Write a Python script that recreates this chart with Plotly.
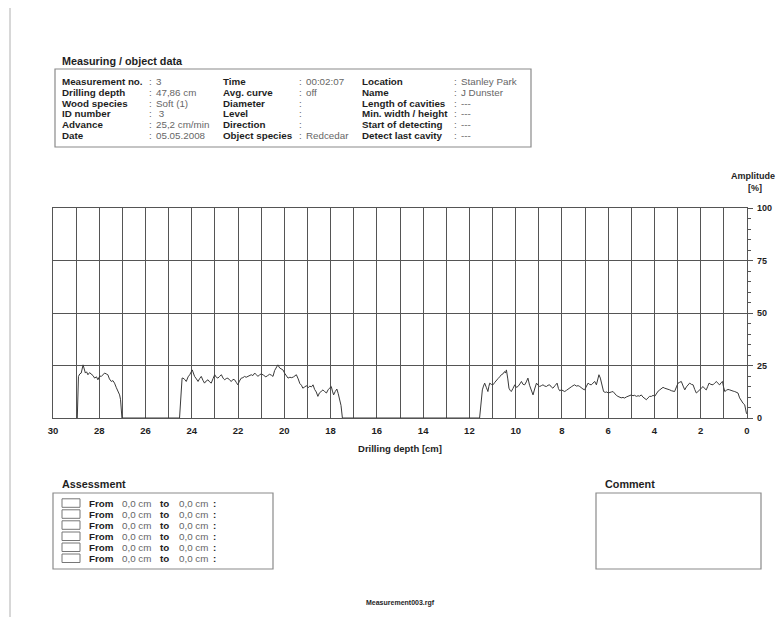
import plotly.graph_objects as go

# ---- drilling profile: depth [cm] vs amplitude [%] ----
depth_cm = [
    28.95, 28.9, 28.84, 28.78, 28.7, 28.6, 28.55, 28.49, 28.42, 28.34, 28.27, 28.2, 28.12, 28.06,
    27.98, 27.91, 27.84, 27.77, 27.7, 27.63, 27.56, 27.48, 27.41, 27.34, 27.26, 27.19, 27.12, 27.08,
    27.02, 26.0, 25.0, 24.53,
    24.42, 24.38, 24.31, 24.24, 24.16, 24.09, 23.98, 23.93, 23.88, 23.8, 23.73, 23.66, 23.59, 23.52,
    23.45, 23.38, 23.3, 23.23, 23.16, 23.08, 23.01, 22.94, 22.87, 22.8, 22.72, 22.65, 22.58, 22.51,
    22.44, 22.36, 22.29, 22.22, 22.15, 22.08, 22.01, 21.94, 21.86, 21.79, 21.72, 21.65, 21.57, 21.5,
    21.43, 21.36, 21.28, 21.21, 21.14, 21.07, 20.99, 20.9, 20.8, 20.72, 20.64, 20.56, 20.49, 20.42,
    20.35, 20.28, 20.2, 20.13, 20.06, 19.98, 19.91, 19.84, 19.76, 19.68, 19.6, 19.54, 19.48, 19.4,
    19.33, 19.26, 19.2, 19.12, 19.04, 18.97, 18.9, 18.83, 18.76, 18.69, 18.62, 18.55, 18.48, 18.41,
    18.33, 18.26, 18.18, 18.1, 18.04, 17.97, 17.92, 17.87, 17.8, 17.73, 17.67, 17.61, 17.55, 17.49,
    16.0, 14.0, 12.0, 11.56,
    11.47, 11.44, 11.39, 11.34, 11.27, 11.2, 11.16, 11.12, 11.05, 10.98, 10.9, 10.83, 10.76, 10.69,
    10.62, 10.55, 10.48, 10.44, 10.4, 10.34, 10.29, 10.24, 10.19, 10.12, 10.04, 9.97, 9.9, 9.82,
    9.75, 9.68, 9.61, 9.54, 9.47, 9.4, 9.32, 9.25, 9.18, 9.1, 9.03, 8.96, 8.89, 8.82, 8.74, 8.67,
    8.6, 8.53, 8.46, 8.39, 8.3, 8.21, 8.15, 8.1, 8.02, 7.95, 7.88, 7.8, 7.74, 7.67, 7.6, 7.52, 7.45,
    7.38, 7.3, 7.23, 7.16, 7.09, 7.02, 6.95, 6.87, 6.8, 6.73, 6.66, 6.58, 6.51, 6.46, 6.4, 6.34,
    6.29, 6.24, 6.2, 6.13, 6.06, 6.0, 5.93, 5.86, 5.79, 5.72, 5.65, 5.58, 5.51, 5.44, 5.36, 5.29,
    5.22, 5.15, 5.08, 5.0, 4.93, 4.86, 4.78, 4.71, 4.64, 4.57, 4.5, 4.42, 4.35, 4.28, 4.21, 4.13,
    4.06, 3.99, 3.92, 3.84, 3.77, 3.7, 3.63, 3.56, 3.48, 3.41, 3.34, 3.27, 3.2, 3.13, 3.05, 2.98,
    2.91, 2.84, 2.76, 2.69, 2.62, 2.55, 2.48, 2.4, 2.33, 2.26, 2.19, 2.12, 2.04, 1.97, 1.9, 1.83,
    1.76, 1.7, 1.64, 1.56, 1.47, 1.4, 1.32, 1.25, 1.18, 1.12, 1.06, 1.01, 0.96, 0.89, 0.82, 0.75,
    0.68, 0.6, 0.53, 0.46, 0.39, 0.32, 0.24, 0.17, 0.1, 0.05, 0.02,
]
amplitude_pct = [
    0.0, 19.8, 21.0, 21.4, 25.3, 21.4, 22.0, 20.6, 21.6, 21.0, 20.2, 19.0, 19.6, 18.2,
    20.0, 19.8, 20.8, 21.4, 21.0, 20.6, 18.6, 17.4, 17.8, 16.6, 14.4, 12.6, 11.0, 8.7,
    0.0, 0.0, 0.0, 0.0,
    19.0, 19.0, 18.4, 17.4, 19.6, 20.6, 22.9, 21.0, 19.8, 18.6, 17.4, 18.8, 19.8, 18.0,
    16.6, 17.6, 18.2, 17.2, 16.6, 18.8, 20.6, 19.4, 19.0, 19.8, 20.6, 19.0, 18.2, 18.8,
    19.0, 18.0, 17.4, 18.4, 18.2, 17.0, 15.8, 17.6, 19.0, 19.2, 19.8, 19.4, 19.8, 20.0,
    20.6, 20.2, 21.4, 20.6, 19.8, 20.6, 21.0, 20.4, 19.6, 20.2, 20.8, 20.4, 19.8, 22.6,
    24.2, 25.3, 23.8, 23.4, 22.9, 21.2, 19.8, 19.0, 19.4, 19.2, 19.6, 20.2, 20.6, 18.6,
    16.4, 15.6, 14.2, 14.8, 15.4, 14.4, 15.2, 14.8, 15.8, 13.6, 12.4, 10.3, 12.0, 12.6,
    13.4, 12.6, 11.9, 13.6, 14.4, 15.0, 12.8, 11.0, 12.6, 13.8, 11.6, 8.7, 6.0, 0.0,
    0.0, 0.0, 0.0, 0.0,
    10.0, 13.4, 15.2, 16.6, 14.6, 12.6, 15.0, 16.6, 16.0, 15.8, 17.0, 18.2, 18.8, 19.6,
    20.6, 21.0, 22.1, 21.4, 22.9, 18.6, 14.2, 13.2, 12.6, 14.0, 15.8, 14.6, 15.0, 16.2,
    17.4, 16.0, 15.8, 17.2, 19.0, 15.6, 12.6, 11.0, 13.8, 16.6, 15.6, 15.0, 15.4, 15.8, 15.2, 15.0,
    15.6, 15.8, 14.8, 14.2, 15.4, 16.6, 14.0, 13.0, 13.4, 12.8, 12.6, 13.2, 13.8, 14.2, 14.8, 15.4, 15.8,
    15.2, 15.4, 15.0, 14.2, 13.8, 13.4, 15.0, 16.6, 16.0, 15.8, 16.6, 17.4, 15.8, 18.2, 20.6, 19.0,
    16.6, 14.2, 12.6, 12.2, 12.4, 11.9, 12.0, 12.4, 12.6, 11.4, 10.8, 10.3, 10.0, 9.6, 9.8, 9.5,
    10.0, 10.4, 10.6, 11.0, 10.6, 10.8, 10.3, 10.6, 10.4, 11.0, 10.0, 9.4, 8.7, 9.6, 10.3, 10.3,
    10.8, 10.3, 11.6, 12.8, 13.4, 13.8, 14.6, 14.2, 14.0, 13.6, 13.4, 13.0, 12.8, 12.6, 14.8, 16.6,
    17.0, 17.4, 15.2, 13.4, 14.8, 15.8, 16.6, 16.0, 15.8, 13.6, 11.9, 12.6, 13.4, 14.2, 15.0, 14.0,
    13.4, 15.0, 16.6, 16.0, 15.8, 16.6, 17.4, 16.4, 15.8, 16.8, 17.4, 14.6, 12.6, 13.2, 13.6, 13.4,
    13.0, 12.8, 12.6, 12.2, 11.9, 9.6, 7.9, 7.0, 6.3, 4.0, 2.0,
]

depth_ticks = list(range(0, 31, 2))
amplitude_ticks = [0, 25, 50, 75, 100]

# ---- measurement header ----
col1_labels = ["Measurement no.", "Drilling depth", "Wood species", "ID number", "Advance", "Date"]
col1_values = ["3", "47,86 cm", "Soft (1)", " 3", "25,2 cm/min", "05.05.2008"]
col2_labels = ["Time", "Avg. curve", "Diameter", "Level", "Direction", "Object species"]
col2_values = ["00:02:07", "off", "", "", "", "Redcedar"]
col3_labels = ["Location", "Name", "Length of cavities", "Min. width / height",
               "Start of detecting", "Detect last cavity"]
col3_values = ["Stanley Park", "J Dunster", "---", "---", "---", "---"]

# ---- assessment rows ----
assess_from = ["0,0 cm"] * 6
assess_to = ["0,0 cm"] * 6

FONT = "Liberation Sans, Arial, Helvetica, sans-serif"
GRID = "#555555"
BOX = "#8a8a8a"
LABEL = "#1e1e1e"
VALUE = "#666666"

W, H = 776, 617
L, R, T, B = 53, 29, 208, 199
PW, PH = W - L - R, H - T - B


def px(x):
    return (x - L) / PW


def py(y):
    return (H - B - y) / PH


fig = go.Figure()
fig.add_trace(go.Scatter(
    x=depth_cm, y=amplitude_pct, mode="lines",
    line=dict(color="#3a3a3a", width=1), hoverinfo="skip", showlegend=False,
))

annotations = []
shapes = []


def text(x, y, s, size=9.8, bold=False, color=LABEL, xanchor="left"):
    annotations.append(dict(
        x=px(x), y=py(y), xref="paper", yref="paper", text=s, showarrow=False,
        xanchor=xanchor, yanchor="middle", borderpad=0, borderwidth=0,
        font=dict(family=FONT, size=size, color=color, weight="bold" if bold else "normal"),
    ))


def box(x0, y0, x1, y1, color=BOX, width=1.2):
    shapes.append(dict(type="rect", xref="paper", yref="paper",
                       x0=px(x0), x1=px(x1), y0=py(y1), y1=py(y0),
                       line=dict(color=color, width=width), fillcolor="rgba(0,0,0,0)"))


# page margin rule
shapes.append(dict(type="line", xref="paper", yref="paper", x0=px(10), x1=px(10),
                   y0=py(8), y1=py(617), line=dict(color="#b0b0b0", width=1)))

# header block
text(62, 61, "Measuring / object data", size=10.8, bold=True)
box(55, 69, 531, 147)
row_y = [81.5, 92.3, 103.1, 113.9, 124.7, 135.5]
for i, yy in enumerate(row_y):
    text(62, yy, col1_labels[i], bold=True)
    text(149, yy, ":", color=VALUE)
    text(156, yy, col1_values[i], color=VALUE)
    text(223, yy, col2_labels[i], bold=True)
    text(299, yy, ":", color=VALUE)
    text(306, yy, col2_values[i], color=VALUE)
    text(362, yy, col3_labels[i], bold=True)
    text(454, yy, ":", color=VALUE)
    text(461, yy, col3_values[i], color=VALUE)

# axis captions
text(753, 176, "Amplitude", size=9, bold=True, xanchor="center")
text(755, 188, "[%]", size=9, bold=True, xanchor="center")

# assessment block
text(62, 484, "Assessment", size=10.8, bold=True)
box(53, 493, 273, 569)
ass_y = [503.3, 514.3, 525.3, 536.5, 547.5, 558.5]
for i, yy in enumerate(ass_y):
    box(62, yy - 4.5, 80, yy + 4, color="#777777", width=1)
    text(89, yy, "From", bold=True)
    text(122, yy, assess_from[i], color=VALUE)
    text(160, yy, "to", bold=True)
    text(179, yy, assess_to[i], color=VALUE)
    text(213, yy, ":", bold=True)

# comment block
text(605, 484, "Comment", size=10.8, bold=True)
box(596, 493, 761, 569)

# file name footer
text(400, 603, "Measurement003.rgf", size=7, bold=True, xanchor="center")

fig.update_layout(
    width=W, height=H,
    margin=dict(l=L, r=R, t=T, b=B, pad=0, autoexpand=False),
    paper_bgcolor="white", plot_bgcolor="white",
    font=dict(family=FONT, color=LABEL),
    showlegend=False,
    annotations=annotations,
    shapes=shapes,
)

fig.update_xaxes(
    range=[30, 0], tickmode="array", tickvals=depth_ticks,
    ticktext=[str(v) for v in depth_ticks],
    tickfont=dict(family=FONT, size=9.5, color=LABEL, weight="bold"),
    ticks="", ticklabelstandoff=3, automargin=False,
    showgrid=True, gridcolor=GRID, gridwidth=1.4,
    minor=dict(dtick=1, tick0=0, showgrid=True, gridcolor=GRID, gridwidth=1.4),
    showline=True, linecolor=GRID, linewidth=1.4, mirror=True,
    zeroline=False,
    title=dict(text="Drilling depth [cm]", standoff=10,
               font=dict(family=FONT, size=9.5, color=LABEL, weight="bold")),
)
fig.update_yaxes(
    range=[0, 100], side="right", tickmode="array", tickvals=amplitude_ticks,
    tickfont=dict(family=FONT, size=9, color=LABEL, weight="bold"),
    ticks="outside", ticklen=5, tickcolor=GRID, tickwidth=1.3, ticklabelstandoff=2,
    automargin=False,
    showgrid=True, gridcolor=GRID, gridwidth=1.4,
    minor=dict(dtick=5, tick0=0, ticks="outside", ticklen=3, tickcolor=GRID, showgrid=False),
    showline=True, linecolor=GRID, linewidth=1.4, mirror=True,
    zeroline=False,
)

fig.write_html("out.html")
